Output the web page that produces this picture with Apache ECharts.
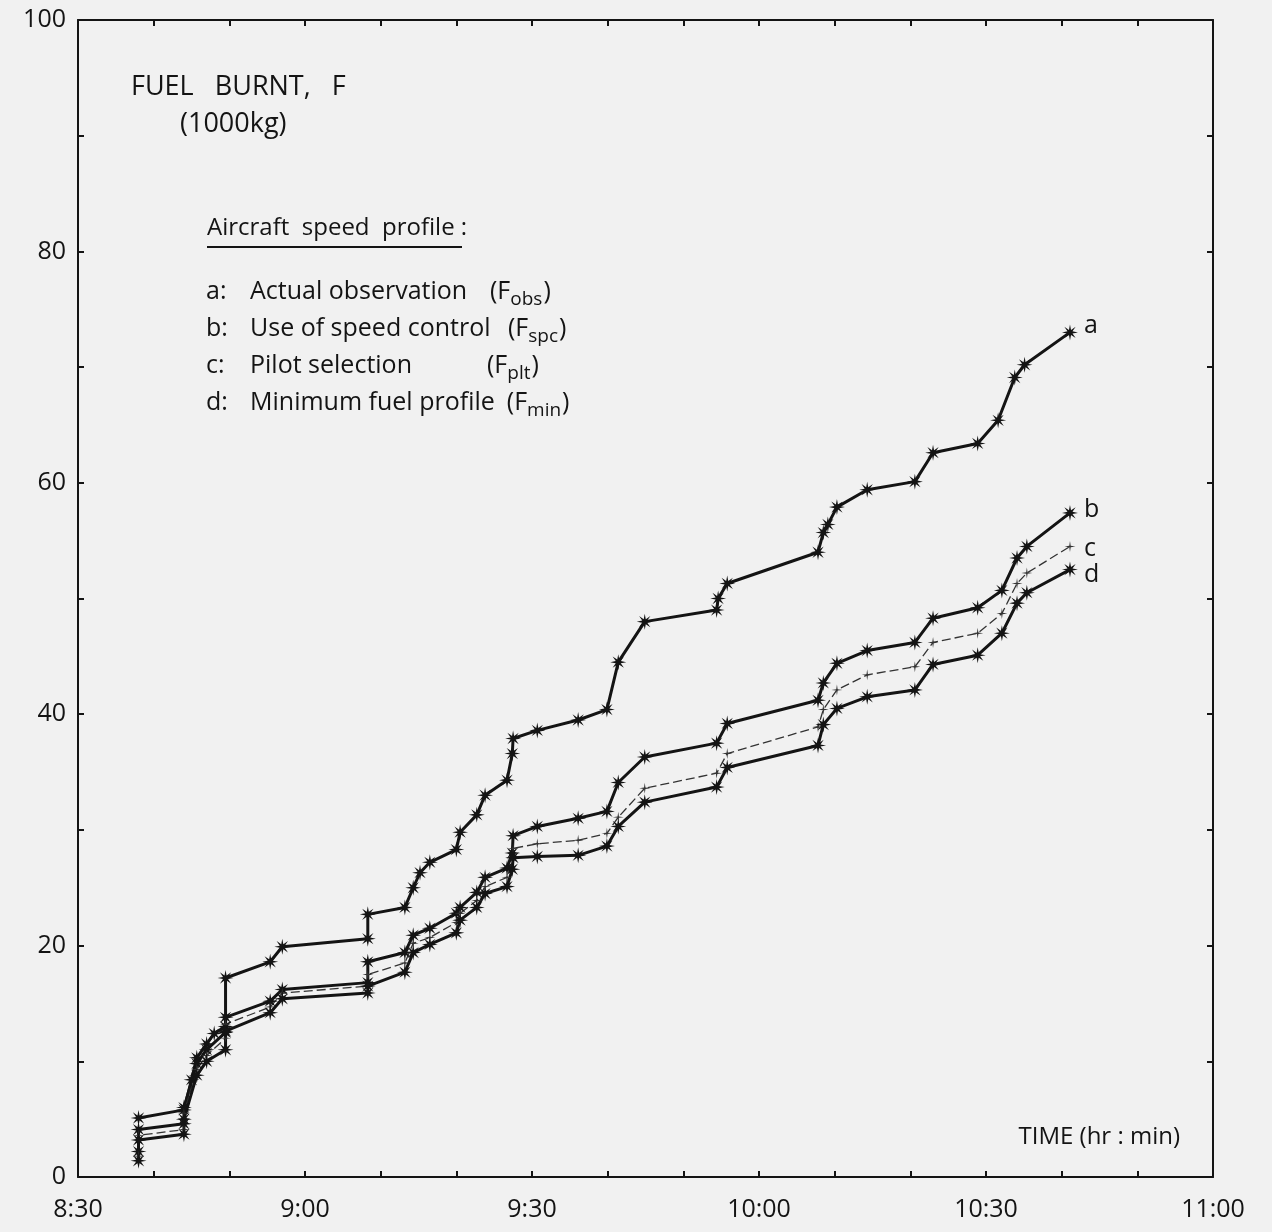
<!DOCTYPE html>
<html>
<head>
<meta charset="utf-8">
<script src="https://cdn.jsdelivr.net/npm/echarts/dist/echarts.min.js"></script>
<style>
html,body{margin:0;padding:0;background:#f1f1f1;}
#chart{width:1272px;height:1232px;}
</style>
</head>
<body>
<div id="chart"></div>
<script>
// ---- DATA (time in minutes since midnight, fuel in 1000 kg) ----
const aTime = [518, 524, 525, 525.7, 527, 528, 529.5, 529.5, 535.4, 537, 548.3, 548.3, 553.2, 554.3, 555.2, 556.5, 560, 560.5, 562.7, 563.8, 566.7, 567.4, 567.5, 570.7, 576.1, 579.9, 581.4, 584.9, 594.4, 594.6, 595.8, 607.8, 608.5, 609.1, 610.3, 614.3, 620.6, 623, 628.9, 631.6, 633.8, 635.1, 641.1];
const aFuel = [5.1, 5.8, 8.4, 10.3, 11.5, 12.4, 13.0, 17.2, 18.6, 19.9, 20.6, 22.7, 23.3, 25.0, 26.3, 27.2, 28.3, 29.8, 31.3, 33.0, 34.3, 36.6, 37.9, 38.6, 39.5, 40.4, 44.5, 48.0, 49.0, 50.0, 51.3, 54.0, 55.7, 56.4, 57.9, 59.4, 60.1, 62.6, 63.4, 65.4, 69.1, 70.2, 73.0];

const bcdTime = [518, 518, 524, 524, 525.7, 527, 529.5, 529.5, 535.4, 537, 548.3, 548.3, 553.2, 554.3, 556.5, 560, 560.5, 562.7, 563.8, 566.7, 567.4, 567.5, 570.7, 576.1, 579.9, 581.4, 584.9, 594.4, 595.8, 607.8, 608.5, 610.3, 614.3, 620.6, 623, 628.9, 632.1, 634.1, 635.4, 641.1];
const bFuel = [2.2, 4.1, 4.6, 6.0, 9.8, 11.0, 12.5, 13.8, 15.2, 16.2, 16.8, 18.6, 19.4, 20.9, 21.5, 22.8, 23.3, 24.6, 25.9, 26.7, 28.0, 29.5, 30.3, 31.0, 31.6, 34.1, 36.3, 37.5, 39.2, 41.2, 42.7, 44.4, 45.5, 46.2, 48.3, 49.2, 50.7, 53.5, 54.5, 57.4];
const cFuel = [1.8, 3.6, 4.1, 5.5, 9.3, 10.5, 12.0, 13.2, 14.7, 15.9, 16.5, 17.5, 18.5, 20.2, 20.7, 22.0, 22.8, 23.9, 25.1, 25.9, 27.4, 28.4, 28.8, 29.1, 29.7, 31.1, 33.6, 34.9, 36.6, 38.9, 40.4, 42.1, 43.4, 44.1, 46.2, 47.0, 48.7, 51.3, 52.2, 54.5];
const dFuel = [1.4, 3.2, 3.7, 5.0, 8.8, 10.0, 11.0, 12.6, 14.2, 15.4, 15.9, 16.5, 17.7, 19.4, 20.1, 21.1, 22.2, 23.3, 24.5, 25.1, 26.6, 27.6, 27.7, 27.8, 28.6, 30.3, 32.4, 33.7, 35.4, 37.3, 39.1, 40.5, 41.5, 42.1, 44.3, 45.1, 47.0, 49.6, 50.5, 52.5];

const seriesLetters = ['a', 'b', 'c', 'd'];
const legendLetters = ['a:', 'b:', 'c:', 'd:'];
const legendNames = ['Actual observation', 'Use of speed control', 'Pilot selection', 'Minimum fuel profile'];
const legendSubs = ['obs', 'spc', 'plt', 'min'];
const yTitle = ['FUEL   BURNT,   F', '(1000kg)'];
const xTitle = 'TIME (hr : min)';
const legendTitle = 'Aircraft  speed  profile';

// ---- helpers ----
const FONT = '"Open Sans", "Liberation Sans", sans-serif';
const INK = '#141414';
function zip(xs, ys) { return xs.map((x, i) => [x, ys[i]]); }
function starPath(n, rOut, rIn) {
  let d = '';
  for (let k = 0; k < 2 * n; k++) {
    const r = k % 2 === 0 ? rOut : rIn;
    const ang = Math.PI * k / n - Math.PI / 2;
    const x = (10 + r * Math.cos(ang)).toFixed(2), y = (10 + r * Math.sin(ang)).toFixed(2);
    d += (k === 0 ? 'M' : 'L') + x + ' ' + y + ' ';
  }
  return 'path://' + d + 'Z';
}
const starSym = starPath(8, 10, 3.4);
const plusSym = starPath(4, 10, 1.8);
function fmtTime(v) {
  const h = Math.floor(v / 60), m = Math.round(v % 60);
  return h + ':' + String(m).padStart(2, '0');
}
const ctx = document.createElement('canvas').getContext('2d');
function textW(t, size) { ctx.font = size + 'px ' + FONT; return ctx.measureText(t).width; }

const endOffsets = [[0, -7], [0, -3], [0, 2], [0, 5]];
function mkSeries(i, data, opts) {
  return Object.assign({
    name: seriesLetters[i], type: 'line', data, animation: false, silent: true,
    showAllSymbol: true, symbol: starSym, symbolSize: 16,
    lineStyle: { color: INK, width: 3 },
    itemStyle: { color: INK },
    endLabel: { show: true, formatter: seriesLetters[i], fontSize: 25, fontFamily: FONT, color: INK, distance: 14, offset: endOffsets[i] }
  }, opts || {});
}

const series = [
  mkSeries(0, zip(aTime, aFuel)),
  mkSeries(1, zip(bcdTime, bFuel)),
  mkSeries(2, zip(bcdTime, cFuel), {
    symbol: plusSym, symbolSize: 11,
    lineStyle: { color: '#333', width: 1.3, type: [9, 4] },
    itemStyle: { color: '#333' }
  }),
  mkSeries(3, zip(bcdTime, dFuel))
];

// ---- graphic texts ----
const LG = 25;
const graphics = [];
graphics.push({ type: 'text', x: 131, y: 87, style: { text: yTitle[0], font: '27px ' + FONT, fill: INK, verticalAlign: 'middle' } });
graphics.push({ type: 'text', x: 180, y: 124, style: { text: yTitle[1], font: '27px ' + FONT, fill: INK, verticalAlign: 'middle' } });
graphics.push({ type: 'text', x: 207, y: 228, style: { text: legendTitle + ' :', font: '24px ' + FONT, fill: INK, verticalAlign: 'middle' } });
graphics.push({ type: 'line', shape: { x1: 207, y1: 247, x2: 462, y2: 247 }, style: { stroke: INK, lineWidth: 2 } });
const legendY = [292, 329, 366, 403];
const parenX = [490, 508, 487, 493];
for (let i = 0; i < 4; i++) {
  const y = legendY[i];
  graphics.push({ type: 'text', x: 206, y, style: { text: legendLetters[i], font: LG + 'px ' + FONT, fill: INK, verticalAlign: 'middle' } });
  graphics.push({ type: 'text', x: 250, y, style: { text: legendNames[i], font: LG + 'px ' + FONT, fill: INK, verticalAlign: 'middle' } });
  const px = Math.max(parenX[i], 250 + textW(legendNames[i], LG) + 12);
  const w1 = textW('(F', LG);
  graphics.push({ type: 'text', x: px, y, style: { text: '(F', font: LG + 'px ' + FONT, fill: INK, verticalAlign: 'middle' } });
  const w2 = textW(legendSubs[i], 19);
  graphics.push({ type: 'text', x: px + w1, y: y + 8, style: { text: legendSubs[i], font: '19px ' + FONT, fill: INK, verticalAlign: 'middle' } });
  graphics.push({ type: 'text', x: px + w1 + w2 + 1, y, style: { text: ')', font: LG + 'px ' + FONT, fill: INK, verticalAlign: 'middle' } });
}
graphics.push({ type: 'text', x: 1180, y: 1137, style: { text: xTitle, font: '24px ' + FONT, fill: INK, align: 'right', verticalAlign: 'middle' } });

// ---- axes ----
const axisLine = { show: true, onZero: false, lineStyle: { color: INK, width: 2 } };
const tick = { show: true, inside: true, length: 6, lineStyle: { color: INK, width: 2 } };
function xAx(pos, labels) {
  return {
    type: 'value', position: pos, min: 510, max: 660, interval: 30,
    axisLine, axisTick: tick,
    minorTick: { show: true, splitNumber: 3, length: 6, lineStyle: { color: INK, width: 2 } },
    splitLine: { show: false },
    axisLabel: { show: labels, formatter: fmtTime, fontSize: 25, fontFamily: FONT, color: INK, margin: 20 }
  };
}
function yAx(pos, labels) {
  return {
    type: 'value', position: pos, min: 0, max: 100, interval: 20,
    axisLine, axisTick: tick,
    minorTick: { show: true, splitNumber: 2, length: 6, lineStyle: { color: INK, width: 2 } },
    splitLine: { show: false },
    axisLabel: { show: labels, fontSize: 25, fontFamily: FONT, color: INK, margin: 12 }
  };
}

const chart = echarts.init(document.getElementById('chart'), null, { renderer: 'canvas' });
chart.setOption({
  backgroundColor: '#f1f1f1',
  animation: false,
  grid: { left: 78, right: 59, top: 20, bottom: 55, containLabel: false },
  xAxis: [xAx('bottom', true), xAx('top', false)],
  yAxis: [yAx('left', true), yAx('right', false)],
  series,
  graphic: graphics
});
</script>
</body>
</html>
